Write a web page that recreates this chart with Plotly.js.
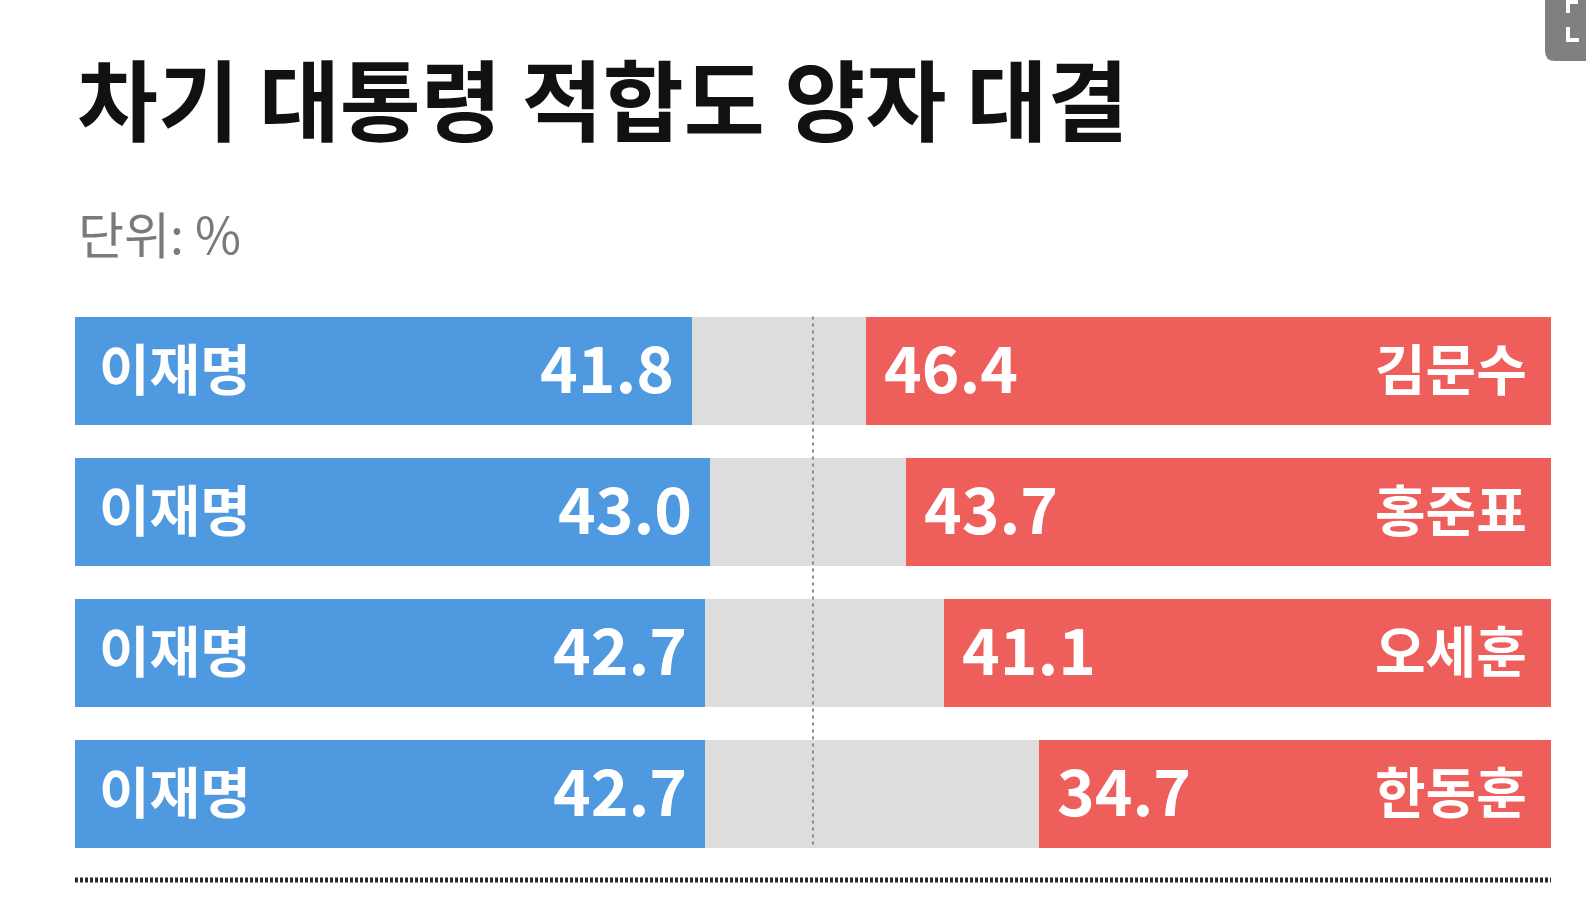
<!DOCTYPE html>
<html>
<head>
<meta charset="utf-8">
<script src="https://cdn.plot.ly/plotly-3.0.1.min.js"></script>
<style>html,body{margin:0;padding:0;background:#fff;}#chart{width:1586px;height:897px;}</style>
</head>
<body>
<div id="chart"></div>
<script>
// ---- data ----
const leftName = "이재명";
const opponents = ["김문수", "홍준표", "오세훈", "한동훈"];
const leeValues = [41.8, 43.0, 42.7, 42.7];
const oppValues = [46.4, 43.7, 41.1, 34.7];
const titleText = "차기 대통령 적합도 양자 대결";
const unitText = "단위: %";

// ---- layout constants ----
const W = 1586, H = 897;
const M = {l: 75, r: 35, t: 300, b: 32};
const plotW = W - M.l - M.r, plotH = H - M.t - M.b;
const px2x = px => (px - M.l) / plotW;
const px2y = py => (H - M.b - py) / plotH;

const FONT = '"Noto Sans CJK KR", "Noto Sans", sans-serif';
const BLUE = '#4F99E0', RED = '#EE5E5B', GRAY = '#DDDDDD';

const undecided = leeValues.map((v, i) => +(100 - v - oppValues[i]).toFixed(1));

const traces = [
  {type: 'bar', orientation: 'h', y: opponents, x: leeValues, marker: {color: BLUE, line: {width: 0}}, hoverinfo: 'skip'},
  {type: 'bar', orientation: 'h', y: opponents, x: undecided, marker: {color: GRAY, line: {width: 0}}, hoverinfo: 'skip'},
  {type: 'bar', orientation: 'h', y: opponents, x: oppValues, marker: {color: RED, line: {width: 0}}, hoverinfo: 'skip'}
];

const annotations = [];
opponents.forEach((opp, i) => {
  annotations.push({x: 0, y: opp, xref: 'x', yref: 'y', text: leftName, showarrow: false,
    xanchor: 'left', yanchor: 'middle', xshift: 22, yshift: 5,
    font: {family: FONT, size: 55, color: '#fff', weight: 'bold'}});
  annotations.push({x: leeValues[i], y: opp, xref: 'x', yref: 'y', text: leeValues[i].toFixed(1), showarrow: false,
    xanchor: 'right', yanchor: 'middle', xshift: -16, yshift: 6,
    font: {family: FONT, size: 64, color: '#fff', weight: 'bold'}});
  annotations.push({x: 100 - oppValues[i], y: opp, xref: 'x', yref: 'y', text: oppValues[i].toFixed(1), showarrow: false,
    xanchor: 'left', yanchor: 'middle', xshift: 16, yshift: 6,
    font: {family: FONT, size: 64, color: '#fff', weight: 'bold'}});
  annotations.push({x: 100, y: opp, xref: 'x', yref: 'y', text: opp, showarrow: false,
    xanchor: 'right', yanchor: 'middle', xshift: -22, yshift: 5,
    font: {family: FONT, size: 55, color: '#fff', weight: 'bold'}});
});
annotations.push({x: 0, y: px2y(232), xref: 'paper', yref: 'paper', text: unitText, showarrow: false,
  xanchor: 'left', yanchor: 'middle', xshift: 1,
  font: {family: FONT, size: 50, color: '#7a7a7a'}});

const halfBar = (1 - 0.235) / 2;
const shapes = [
  // center dotted line
  {type: 'line', xref: 'x', yref: 'y', x0: 50, x1: 50, y0: -halfBar, y1: opponents.length - 1 + halfBar,
   line: {color: '#8a8a8a', width: 2, dash: '3px,4px'}, layer: 'above'},
  // bottom dotted rule
  {type: 'line', xref: 'x', yref: 'paper', x0: 0, x1: 100, y0: px2y(880), y1: px2y(880),
   line: {color: '#2a2a2a', width: 5, dash: '3px,2px'}},
  // top-right icon box
  {type: 'path', xref: 'paper', yref: 'paper',
   path: `M${px2x(1545)},${px2y(0)} L${px2x(1586)},${px2y(0)} L${px2x(1586)},${px2y(61)} L${px2x(1555)},${px2y(61)} Q${px2x(1545)},${px2y(61)} ${px2x(1545)},${px2y(51)} Z`,
   fillcolor: '#808080', line: {width: 0}},
  {type: 'path', xref: 'paper', yref: 'paper',
   path: `M${px2x(1568)},${px2y(13)} L${px2x(1568)},${px2y(2)} L${px2x(1578)},${px2y(2)}`,
   line: {color: '#ffffff', width: 4}},
  {type: 'path', xref: 'paper', yref: 'paper',
   path: `M${px2x(1568)},${px2y(27)} L${px2x(1568)},${px2y(40)} L${px2x(1579)},${px2y(40)}`,
   line: {color: '#ffffff', width: 4}}
];

const layout = {
  width: W, height: H,
  margin: M,
  paper_bgcolor: '#ffffff', plot_bgcolor: '#ffffff',
  barmode: 'stack', bargap: 0.235,
  showlegend: false,
  title: {text: titleText, x: 77 / W, xanchor: 'left', xref: 'container',
          y: 1 - 103 / H, yanchor: 'middle', yref: 'container',
          font: {family: FONT, size: 88, color: '#111111', weight: 'bold'}},
  xaxis: {range: [0, 100], visible: false, fixedrange: true},
  yaxis: {type: 'category', categoryorder: 'array', categoryarray: opponents, autorange: 'reversed',
          visible: false, fixedrange: true},
  annotations: annotations,
  shapes: shapes
};

Plotly.newPlot('chart', traces, layout, {displayModeBar: false, staticPlot: true});
</script>
</body>
</html>
